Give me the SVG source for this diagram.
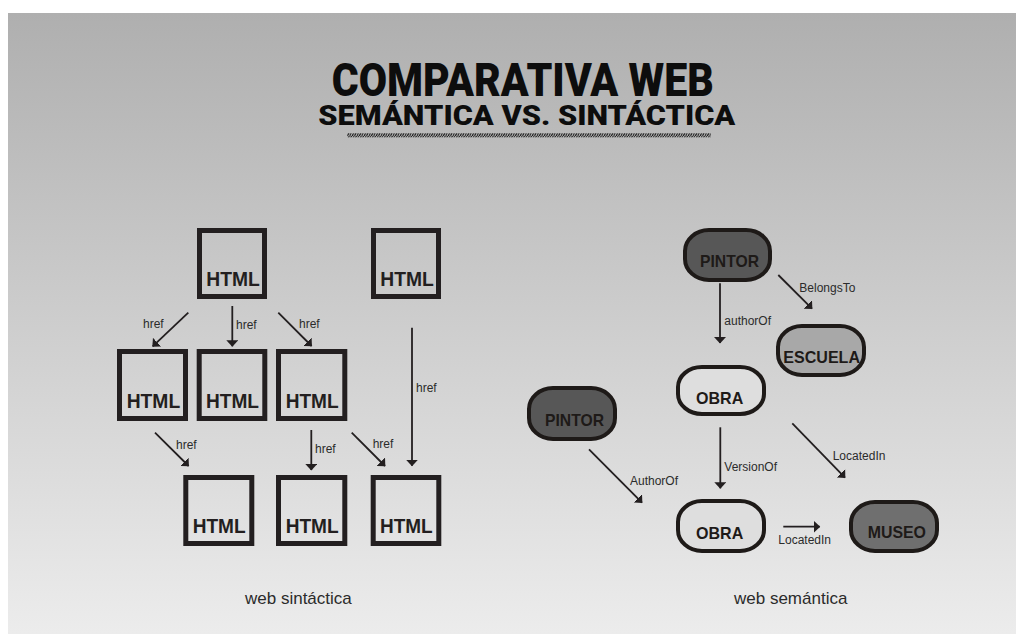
<svg xmlns="http://www.w3.org/2000/svg" width="1016" height="634" viewBox="0 0 1016 634">
<defs>
<linearGradient id="bg" x1="0" y1="0" x2="0" y2="1">
<stop offset="0" stop-color="#afafaf"/>
<stop offset="1" stop-color="#ececec"/>
</linearGradient>
<pattern id="hatch" width="2.4" height="4" patternUnits="userSpaceOnUse">
<path d="M-0.6,4 L1.2,0 M1.8,4 L3.6,0" stroke="#111111" stroke-width="1.1" fill="none"/>
</pattern>
<marker id="ah" viewBox="0 0 7 12" refX="6" refY="6" markerWidth="7" markerHeight="12" markerUnits="userSpaceOnUse" orient="auto">
<path d="M0,0 L6.5,6 L0,12 Z" fill="#231f20"/>
</marker>
</defs>
<style>
.title{font-family:Roboto,"Liberation Sans",Arial,sans-serif;font-weight:900;fill:#0d0d0d}
.box{fill:none;stroke:#231f20;stroke-width:5}
.ht{font-family:"Liberation Sans",Arial,sans-serif;font-weight:bold;font-size:21px;fill:#231f20}
.blob{stroke:#1e1a18;stroke-width:4}
.bt{font-family:"Liberation Sans",Arial,sans-serif;font-weight:bold;font-size:17px;fill:#1e1a18}
.lbl{font-family:"Liberation Sans",Arial,sans-serif;font-size:12px;fill:#2b2b2b}
.cap{font-family:"Liberation Sans",Arial,sans-serif;font-size:17px;fill:#2b2b2b}
.arr{stroke:#231f20;stroke-width:1.8;fill:none;marker-end:url(#ah)}
</style>
<rect x="0" y="0" width="1016" height="634" fill="#ffffff"/>
<rect x="8" y="13" width="1008" height="621" fill="url(#bg)"/>

<g id="title">
<text class="title" x="331.7" y="96" font-size="46" textLength="382" lengthAdjust="spacingAndGlyphs">COMPARATIVA WEB</text>
<text class="title" x="318.3" y="125" font-size="28.5" textLength="417" lengthAdjust="spacingAndGlyphs">SEMÁNTICA VS. SINTÁCTICA</text>
<rect x="347.3" y="133.3" width="363.4" height="4" fill="url(#hatch)"/>
</g>

<g id="connectors">
<line class="arr" x1="188.3" y1="312.7" x2="152.7" y2="346.3"/>
<line class="arr" x1="232.3" y1="306" x2="232.3" y2="346.3"/>
<line class="arr" x1="278.3" y1="312.7" x2="311.6" y2="346"/>
<line class="arr" x1="412" y1="327.7" x2="412" y2="465.7"/>
<line class="arr" x1="155" y1="432.7" x2="188.6" y2="466"/>
<line class="arr" x1="311.3" y1="430" x2="311.3" y2="470"/>
<line class="arr" x1="351.7" y1="432.7" x2="385" y2="466"/>

<line class="arr" x1="720" y1="283.3" x2="720" y2="343"/>
<line class="arr" x1="778.3" y1="275" x2="812" y2="308.6"/>
<line class="arr" x1="720.3" y1="427.3" x2="720.3" y2="488.3"/>
<line class="arr" x1="792.3" y1="423.3" x2="845" y2="477.6"/>
<line class="arr" x1="589" y1="449.3" x2="642" y2="502.6"/>
<line class="arr" x1="783.3" y1="526.7" x2="819.7" y2="526.7"/>

<text class="lbl" x="143" y="328">href</text>
<text class="lbl" x="236" y="329">href</text>
<text class="lbl" x="299" y="328">href</text>
<text class="lbl" x="416" y="391.7">href</text>
<text class="lbl" x="176" y="449">href</text>
<text class="lbl" x="315" y="452.7">href</text>
<text class="lbl" x="372.7" y="448">href</text>

<text class="lbl" x="724.3" y="325">authorOf</text>
<text class="lbl" x="799.3" y="291.7">BelongsTo</text>
<text class="lbl" x="724.3" y="470.7">VersionOf</text>
<text class="lbl" x="832.7" y="460">LocatedIn</text>
<text class="lbl" x="630" y="485">AuthorOf</text>
<text class="lbl" x="778.3" y="544.3">LocatedIn</text>
</g>

<g id="html1"><rect class="box" x="199.5" y="230.5" width="65" height="66"/><text class="ht" x="206.3" y="286.3" textLength="53.5" lengthAdjust="spacingAndGlyphs">HTML</text></g>
<g id="html2"><rect class="box" x="373.5" y="230.5" width="65" height="66"/><text class="ht" x="380.3" y="286.3" textLength="53.5" lengthAdjust="spacingAndGlyphs">HTML</text></g>
<g id="html3"><rect class="box" x="119.5" y="351.5" width="66" height="67"/><text class="ht" x="126.7" y="407.7" textLength="53.5" lengthAdjust="spacingAndGlyphs">HTML</text></g>
<g id="html4"><rect class="box" x="199.2" y="351.5" width="65.6" height="67"/><text class="ht" x="206" y="407.7" textLength="53" lengthAdjust="spacingAndGlyphs">HTML</text></g>
<g id="html5"><rect class="box" x="278.5" y="351.5" width="66.3" height="67"/><text class="ht" x="285.7" y="407.7" textLength="53" lengthAdjust="spacingAndGlyphs">HTML</text></g>
<g id="html6"><rect class="box" x="185.8" y="477.5" width="66" height="66"/><text class="ht" x="192.7" y="533.3" textLength="53" lengthAdjust="spacingAndGlyphs">HTML</text></g>
<g id="html7"><rect class="box" x="278.5" y="477.5" width="66.3" height="66"/><text class="ht" x="285.7" y="533.3" textLength="53" lengthAdjust="spacingAndGlyphs">HTML</text></g>
<g id="html8"><rect class="box" x="373.2" y="477.5" width="65.6" height="66"/><text class="ht" x="380" y="533.3" textLength="52.7" lengthAdjust="spacingAndGlyphs">HTML</text></g>

<g id="pintor1"><rect class="blob" x="685" y="230" width="85" height="50" rx="24" ry="21" fill="#575757"/><text class="bt" x="700" y="266.7" textLength="59" lengthAdjust="spacingAndGlyphs">PINTOR</text></g>
<g id="escuela"><rect class="blob" x="778" y="326" width="86" height="49" rx="24" ry="21" fill="#a8a8a8"/><text class="bt" x="783.3" y="362.7" textLength="76.7" lengthAdjust="spacingAndGlyphs">ESCUELA</text></g>
<g id="obra1"><rect class="blob" x="678" y="367" width="86" height="47" rx="24" ry="20" fill="#dedede"/><text class="bt" x="696" y="404" textLength="47.3" lengthAdjust="spacingAndGlyphs">OBRA</text></g>
<g id="pintor2"><rect class="blob" x="529" y="388" width="86" height="51" rx="24" ry="21" fill="#575757"/><text class="bt" x="545" y="425.7" textLength="59" lengthAdjust="spacingAndGlyphs">PINTOR</text></g>
<g id="obra2"><rect class="blob" x="678" y="501" width="86" height="50" rx="24" ry="21" fill="#dedede"/><text class="bt" x="696" y="539" textLength="47.3" lengthAdjust="spacingAndGlyphs">OBRA</text></g>
<g id="museo"><rect class="blob" x="851" y="502" width="86" height="49" rx="24" ry="21" fill="#6f6f6f"/><text class="bt" x="867.7" y="538.3" textLength="58.3" lengthAdjust="spacingAndGlyphs">MUSEO</text></g>

<text class="cap" x="245" y="604">web sintáctica</text>
<text class="cap" x="734" y="604">web semántica</text>
</svg>
